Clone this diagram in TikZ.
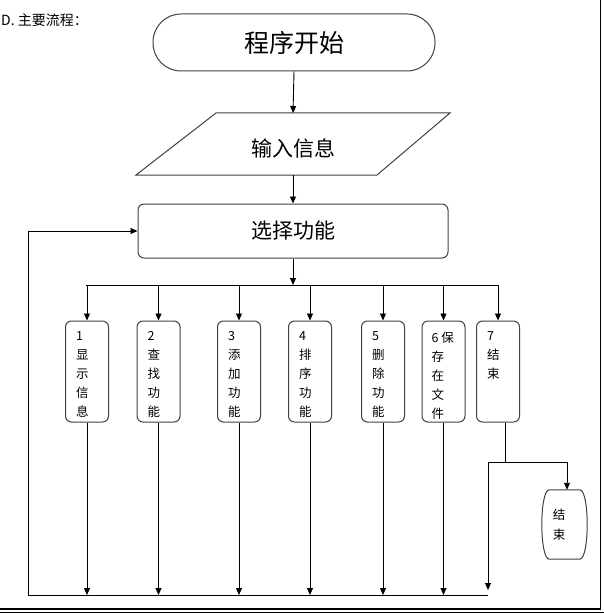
\documentclass[tikz,border=0pt]{standalone}
\usepackage{fontspec}
\newfontfamily\cjk{Noto Sans CJK SC}
\usetikzlibrary{arrows.meta,calc}
\begin{document}
\begin{tikzpicture}[x=1pt,y=-1pt,
  every node/.style={font=\cjk},
  conn/.style={line width=0.9pt,black},
  arr/.style={conn,-{Triangle[length=7pt,width=6pt]}},
  shapeline/.style={draw=black!75,line width=1pt},
  funcbox/.style={shapeline,rectangle,rounded corners=6pt,minimum width=43pt,minimum height=101pt,inner sep=0pt},
  boxtext/.style={anchor=north west,align=left,inner sep=0pt,font=\cjk\fontsize{12.5}{19}\selectfont},
]
\useasboundingbox (0,0) rectangle (604,615);
% page frame
\draw[line width=1.5pt] (600.5,0) -- (600.5,608.5);
\draw[line width=1.5pt] (0,609) -- (601.2,609);
\draw[line width=0.8pt] (0,612.5) -- (604,612.5);
% heading
\node[anchor=west,inner sep=0pt,font=\cjk\fontsize{14}{16}\selectfont] (head) at (1,20) {D.\ 主要流程：};
% start
\node[shapeline,rectangle,rounded corners=28pt,minimum width=282pt,minimum height=57pt,font=\cjk\fontsize{25}{28}\selectfont] (start) at (294,42.5) {程序开始};
% input parallelogram
\node[inner sep=0pt,minimum width=241pt,minimum height=62pt,font=\cjk\fontsize{21}{24}\selectfont] (input) at (293,148) {输入信息};
\coordinate (ptl) at (216,113);
\coordinate (ptr) at (450,113);
\coordinate (pbr) at (377,175);
\coordinate (pbl) at (136,175);
\coordinate (inN) at (293,113);
\coordinate (inS) at (293,175);
\draw[shapeline] (ptl) -- (ptr) -- (pbr) -- (pbl) -- cycle;
% select
\node[shapeline,rectangle,rounded corners=6pt,minimum width=310pt,minimum height=54pt,font=\cjk\fontsize{21}{24}\selectfont] (select) at (293,231) {选择功能};
\draw[arr] (start.south) -- (inN);
\draw[arr] (inS) -- (select.north);
% branch
\coordinate (j) at (293,285);
\draw[arr] (select.south) -- (j);
\coordinate (jl) at (86,285);
\coordinate (jr) at (498,285);
\draw[conn] (jl) -- (jr);
% function boxes
\foreach \n/\x in {1/87,2/158.5,3/239,4/310,5/383,6/443.5,7/498}{
  \node[funcbox] (b\n) at (\x,371.5) {};
}
\node[boxtext] (t1) at ($(b1.north west)+(11,11)$) {1\\显\\示\\信\\息};
\node[boxtext] (t2) at ($(b2.north west)+(11,11)$) {2\\查\\找\\功\\能};
\node[boxtext] (t3) at ($(b3.north west)+(11,11)$) {3\\添\\加\\功\\能};
\node[boxtext] (t4) at ($(b4.north west)+(11,11)$) {4\\排\\序\\功\\能};
\node[boxtext] (t5) at ($(b5.north west)+(11,11)$) {5\\删\\除\\功\\能};
\node[boxtext] (t6) at ($(b6.north west)+(10,11)$) {6 保\\存\\在\\文\\件};
\node[boxtext] (t7) at ($(b7.north west)+(11,11)$) {7\\结\\束};
\foreach \n in {1,...,7}{
  \draw[arr] (b\n.north |- j) -- (b\n.north);
}
% bottom return line
\coordinate (bl) at (28,595);
\coordinate (br) at (488,595);
\foreach \n in {1,...,6}{
  \draw[arr] (b\n.south) -- (b\n.south |- bl);
}
\draw[conn] (bl) -- (br);
\draw[arr] (bl) -- (bl |- select.west) -- (select.west);
% end branch
\coordinate (e0) at ($(b7.south)+(7,0)$);
\coordinate (e1) at ($(b7.south)+(7,40)$);
\coordinate (eL) at (488,462);
\coordinate (eR) at (567,462);
\node[inner sep=0pt,minimum width=38pt,minimum height=69pt] (endb) at (564.5,524.5) {};
\draw[shapeline] ([xshift=4pt]endb.north west) -- ([xshift=-4pt]endb.north east)
  .. controls ([xshift=6pt]endb.north east) and ([xshift=6pt]endb.south east) .. ([xshift=-4pt]endb.south east)
  -- ([xshift=4pt]endb.south west)
  .. controls ([xshift=-6pt]endb.south west) and ([xshift=-6pt]endb.north west) .. cycle;
\node[boxtext,anchor=center,font=\cjk\fontsize{12.5}{20}\selectfont] (endt) at (559,525) {结\\束};
\draw[conn] (e0) -- (e1);
\draw[conn] (eL) -- (eR);
\draw[arr] (eR) -- (eR |- endb.north);
\draw[arr] (eL) -- (488,590);
\end{tikzpicture}
\end{document}
